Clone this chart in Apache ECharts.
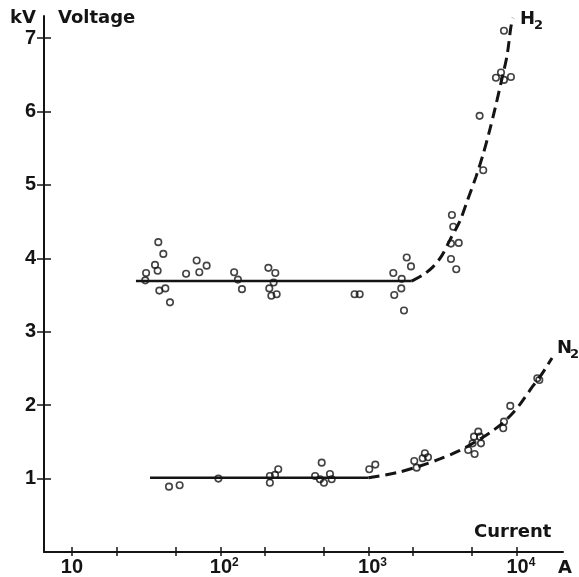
<!DOCTYPE html>
<html>
<head>
<meta charset="utf-8">
<script src="https://cdn.jsdelivr.net/npm/echarts@6/dist/echarts.min.js"></script>
<style>
html,body{margin:0;padding:0;background:#fff;}
#chart{width:579px;height:577px;}
</style>
</head>
<body>
<div id="chart"></div>
<script>
// ---- Data ----
// H2 measured points: current (A), voltage (kV)
const h2Current = [38.2, 41.3, 36.3, 31.6, 37.8, 31.2, 38.8, 42.6, 45.8, 58.8, 69.3, 72.2, 80.9,
  124, 131.5, 140, 211, 235, 229, 214, 221, 240, 805, 871, 1468, 1673, 1662, 1490, 1733, 1808, 1932,
  3648, 3724, 3594, 4055, 3594, 3902, 5932, 5609, 7228, 7816, 8185, 9120, 8185];
const h2Voltage = [4.22, 4.06, 3.91, 3.80, 3.83, 3.70, 3.56, 3.59, 3.40, 3.79, 3.97, 3.81, 3.90,
  3.81, 3.71, 3.58, 3.87, 3.80, 3.67, 3.59, 3.49, 3.51, 3.51, 3.51, 3.80, 3.72, 3.59, 3.50, 3.29, 4.01, 3.89,
  4.59, 4.43, 4.20, 4.21, 3.99, 3.85, 5.20, 5.94, 6.46, 6.53, 6.43, 6.47, 7.10];

// N2 measured points
const n2Current = [45.1, 53.2, 97.1, 216, 234, 246, 216, 483, 436, 470, 500, 549, 564, 1011, 1110,
  2033, 2109, 2316, 2398, 2516, 4699, 5190, 5032, 5140, 5494, 5640, 5728, 8092, 8185, 9025, 13740, 14170];
const n2Voltage = [0.89, 0.91, 1.00, 1.035, 1.05, 1.127, 0.944, 1.217, 1.035, 0.99, 0.944, 1.063, 0.99, 1.127, 1.19,
  1.24, 1.149, 1.277, 1.345, 1.29, 1.39, 1.335, 1.48, 1.571, 1.639, 1.571, 1.48, 1.685, 1.775, 1.99, 2.366, 2.343];

// Fitted curves (solid flat part, dashed rising part)
const h2SolidCurrent = [27, 1953];
const h2SolidVoltage = [3.69, 3.69];
const h2DashCurrent = [1953, 2328, 2718, 3111, 3539, 4133, 4680, 5300, 5907, 6486, 7119, 7815, 8578, 9120, 9413];
const h2DashVoltage = [3.69, 3.774, 3.883, 4.033, 4.251, 4.510, 4.809, 5.109, 5.409, 5.708, 6.035, 6.390, 6.757, 7.153, 7.275];

const n2SolidCurrent = [33.6, 1000];
const n2SolidVoltage = [1.01, 1.01];
const n2DashCurrent = [1000, 1549, 2223, 3027, 4130, 4955, 5792, 6761, 7904, 9124, 10490, 12840, 14760, 17260];
const n2DashVoltage = [1.01, 1.08, 1.172, 1.267, 1.383, 1.471, 1.553, 1.642, 1.744, 1.866, 2.01, 2.262, 2.425, 2.643];

// Axis ticks
const xTickValues = [10, 20, 50, 100, 200, 500, 1000, 2000, 5000, 10000];
const xLabelValues = [10, 100, 1000, 10000];
const xLabelExponents = {10: '', 100: '2', 1000: '3', 10000: '4'};
const yTickValues = [1, 2, 3, 4, 5, 6, 7];

// ---- Chart ----
const zip = (a, b) => a.map((v, i) => [v, b[i]]);
const INK = '#141414';
const numFont = '"Liberation Sans", Arial, sans-serif';
const txtFont = '"DejaVu Sans", sans-serif';

const chart = echarts.init(document.getElementById('chart'), null, {renderer: 'canvas'});

const xCommon = {
  type: 'log', logBase: 10, min: 6.475, max: 20470,
  position: 'bottom', gridIndex: 0,
  splitLine: {show: false}, minorTick: {show: false}, minorSplitLine: {show: false}
};
const yCommon = {
  type: 'value', min: 0, max: 7.3, interval: 1,
  position: 'left', gridIndex: 0,
  splitLine: {show: false}
};

const option = {
  backgroundColor: '#fff',
  animation: false,
  grid: {left: 44, right: 16, top: 16, bottom: 25, containLabel: false},
  xAxis: [
    Object.assign({}, xCommon, {
      axisLine: {show: true, lineStyle: {color: INK, width: 2}},
      axisTick: {show: true, customValues: xTickValues, inside: false, length: 4, lineStyle: {color: INK, width: 1.5}},
      axisLabel: {
        show: true, customValues: xLabelValues, margin: 5, color: INK,
        fontFamily: numFont, fontWeight: 'bold', fontSize: 20,
        formatter: function (v) {
          const e = xLabelExponents[Math.round(v)];
          return e ? '{b|10}{s|' + e + '}' : '{c|10}';
        },
        rich: {
          b: {fontFamily: numFont, fontWeight: 'bold', fontSize: 20, color: INK, padding: [0, 0, 0, 8]},
          c: {fontFamily: numFont, fontWeight: 'bold', fontSize: 20, color: INK},
          s: {fontFamily: numFont, fontWeight: 'bold', fontSize: 12, color: INK, verticalAlign: 'top', padding: [0, 0, 6, 0]}
        }
      }
    }),
    Object.assign({}, xCommon, {
      axisLine: {show: false},
      axisTick: {show: true, customValues: xTickValues, inside: true, length: 5, lineStyle: {color: INK, width: 1.5}},
      axisLabel: {show: false}
    })
  ],
  yAxis: [
    Object.assign({}, yCommon, {
      axisLine: {show: true, lineStyle: {color: INK, width: 2}},
      axisTick: {show: true, customValues: yTickValues, inside: false, length: 7, lineStyle: {color: INK, width: 1.5}},
      axisLabel: {
        show: true, customValues: yTickValues, margin: 8, color: INK,
        fontFamily: numFont, fontWeight: 'bold', fontSize: 20
      }
    }),
    Object.assign({}, yCommon, {
      axisLine: {show: false},
      axisTick: {show: true, customValues: yTickValues, inside: true, length: 7, lineStyle: {color: INK, width: 1.5}},
      axisLabel: {show: false}
    })
  ],
  series: [
    {type: 'line', name: 'H2 fit', data: zip(h2SolidCurrent, h2SolidVoltage), symbol: 'none',
      lineStyle: {color: INK, width: 2.5}, z: 2},
    {type: 'line', name: 'H2 fit dashed', data: zip(h2DashCurrent, h2DashVoltage), symbol: 'none', smooth: 0.3,
      lineStyle: {color: INK, width: 3, type: [11, 6], cap: 'butt'}, z: 2},
    {type: 'line', name: 'N2 fit', data: zip(n2SolidCurrent, n2SolidVoltage), symbol: 'none',
      lineStyle: {color: INK, width: 2.5}, z: 2},
    {type: 'line', name: 'N2 fit dashed', data: zip(n2DashCurrent, n2DashVoltage), symbol: 'none', smooth: 0.3,
      lineStyle: {color: INK, width: 3, type: [11, 6], cap: 'butt'}, z: 2},
    {type: 'scatter', name: 'H2', data: zip(h2Current, h2Voltage), symbol: 'circle', symbolSize: 6.5,
      itemStyle: {color: 'rgba(0,0,0,0)', borderColor: INK, borderWidth: 1.6}, z: 3},
    {type: 'scatter', name: 'N2', data: zip(n2Current, n2Voltage), symbol: 'circle', symbolSize: 6.5,
      itemStyle: {color: 'rgba(0,0,0,0)', borderColor: INK, borderWidth: 1.6}, z: 3}
  ],
  graphic: [
    {type: 'text', x: 10, y: 18, style: {text: 'kV', font: 'bold 18px ' + txtFont, fill: INK, verticalAlign: 'middle'}},
    {type: 'text', x: 58, y: 18, style: {text: 'Voltage', font: 'bold 18px ' + txtFont, fill: INK, verticalAlign: 'middle'}},
    {type: 'text', x: 474, y: 532, style: {text: 'Current', font: 'bold 18px ' + txtFont, fill: INK, verticalAlign: 'middle'}},
    {type: 'text', x: 558, y: 568, style: {text: 'A', font: 'bold 18px ' + txtFont, fill: INK, verticalAlign: 'middle'}},
    {type: 'text', x: 520, y: 19, style: {text: 'H', font: 'bold 18px ' + txtFont, fill: INK, verticalAlign: 'middle'}},
    {type: 'text', x: 534, y: 26, style: {text: '2', font: 'bold 13px ' + txtFont, fill: INK, verticalAlign: 'middle'}},
    {type: 'text', x: 557, y: 348, style: {text: 'N', font: 'bold 18px ' + txtFont, fill: INK, verticalAlign: 'middle'}},
    {type: 'text', x: 570, y: 355, style: {text: '2', font: 'bold 13px ' + txtFont, fill: INK, verticalAlign: 'middle'}}
  ]
};
chart.setOption(option);
</script>
</body>
</html>
